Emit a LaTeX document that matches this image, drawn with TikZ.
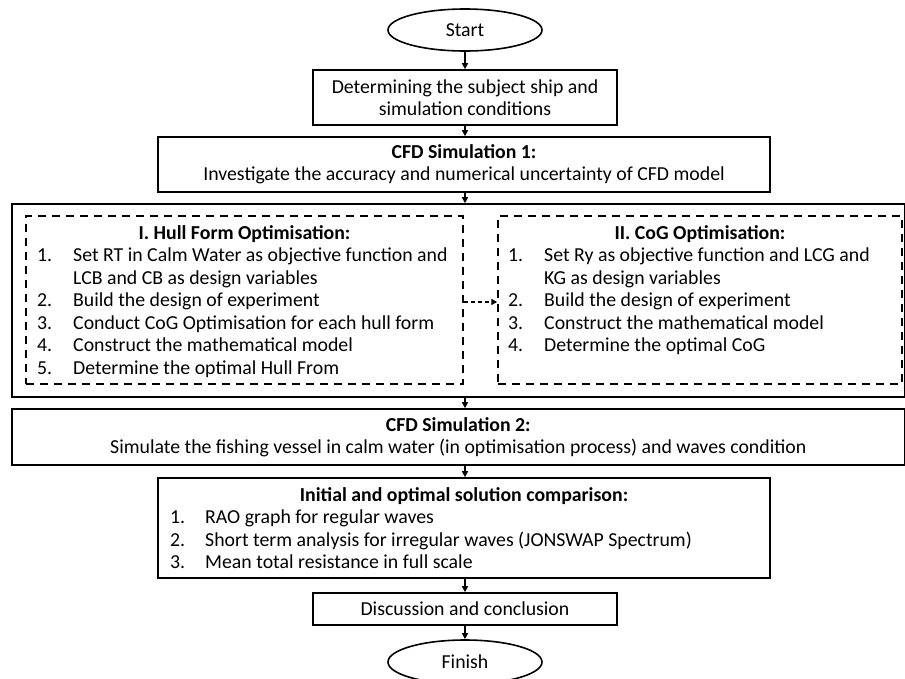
\documentclass[tikz,border=0pt]{standalone}
\usepackage{fontspec}
\setmainfont{Carlito}
\usetikzlibrary{arrows.meta,shapes.geometric}
\newcommand\myfs{\fontsize{19.8}{22}\selectfont}
\tikzset{
  box/.style={draw, line width=1.6pt, rectangle, inner sep=0pt, align=center, font=\myfs},
  dbox/.style={draw, line width=1.5pt, dash pattern=on 8pt off 6pt, rectangle, inner sep=0pt},
  oval/.style={draw, line width=1.6pt, ellipse, inner sep=0pt, minimum width=154pt, font=\myfs},
  arr/.style={-{Triangle[length=6pt,width=6pt]}, line width=1.4pt},
  txt/.style={anchor=base west, inner sep=0pt, font=\myfs},
  head/.style={anchor=base, inner sep=0pt, font=\myfs\bfseries},
}
\begin{document}
\begin{tikzpicture}[x=1pt,y=-1pt]
\useasboundingbox (0,0) rectangle (905,678);
\clip (0,0) rectangle (905,678);
% nodes
\node[oval, minimum height=42pt] (start) at (465,30) {Start};
\node[box, minimum width=304pt, minimum height=55pt] (det) at (465,97.5)
  {Determining the subject ship and\\simulation conditions};
\node[box, minimum width=612pt, minimum height=55pt] (cfd1) at (464,164.5)
  {\textbf{CFD Simulation 1:}\\Investigate the accuracy and numerical uncertainty of CFD model};
\node[box, minimum width=892.5pt, minimum height=193pt] (big) at (458.25,300.5) {};
\node[dbox, minimum width=437pt, minimum height=168pt] (hull) at (244.5,300) {};
\node[dbox, minimum width=404pt, minimum height=168pt] (cog) at (700,300) {};
\node[box, minimum width=892.5pt, minimum height=56pt] (cfd2) at (458.25,437)
  {\textbf{CFD Simulation 2:}\\Simulate the fishing vessel in calm water (in optimisation process) and waves condition};
\node[box, minimum width=612pt, minimum height=100pt] (comp) at (464,528) {};
\node[box, minimum width=304pt, minimum height=32pt] (disc) at (465,609) {Discussion and conclusion};
\node[oval, minimum height=44pt] (finish) at (465,662) {Finish};

% hull form text
\node[head] (h1) at (244.5,239.5) {I. Hull Form Optimisation:};
\node[txt] (h1n1) at (37,261.5) {1.};
\node[txt] (h1t1) at (73,261.5) {Set RT in Calm Water as objective function and};
\node[txt] (h1t1b) at (73,284) {LCB and CB as design variables};
\node[txt] (h1n2) at (37,306.5) {2.};
\node[txt] (h1t2) at (73,306.5) {Build the design of experiment};
\node[txt] (h1n3) at (37,329) {3.};
\node[txt] (h1t3) at (73,329) {Conduct CoG Optimisation for each hull form};
\node[txt] (h1n4) at (37,351.5) {4.};
\node[txt] (h1t4) at (73,351.5) {Construct the mathematical model};
\node[txt] (h1n5) at (37,374) {5.};
\node[txt] (h1t5) at (73,374) {Determine the optimal Hull From};

% cog text
\node[head] (h2) at (700,239.5) {II. CoG Optimisation:};
\node[txt] (h2n1) at (508,261.5) {1.};
\node[txt] (h2t1) at (544,261.5) {Set Ry as objective function and LCG and};
\node[txt] (h2t1b) at (544,284) {KG as design variables};
\node[txt] (h2n2) at (508,306.5) {2.};
\node[txt] (h2t2) at (544,306.5) {Build the design of experiment};
\node[txt] (h2n3) at (508,329) {3.};
\node[txt] (h2t3) at (544,329) {Construct the mathematical model};
\node[txt] (h2n4) at (508,351.5) {4.};
\node[txt] (h2t4) at (544,351.5) {Determine the optimal CoG};

% comparison text
\node[head] (h3) at (464,501.5) {Initial and optimal solution comparison:};
\node[txt] (c1n) at (170,523.5) {1.};
\node[txt] (c1t) at (205,523.5) {RAO graph for regular waves};
\node[txt] (c2n) at (170,546) {2.};
\node[txt] (c2t) at (205,546) {Short term analysis for irregular waves (JONSWAP Spectrum)};
\node[txt] (c3n) at (170,568.5) {3.};
\node[txt] (c3t) at (205,568.5) {Mean total resistance in full scale};

% connectors
\draw[arr] (start.south) -- (det.north);
\draw[arr] (det.south) -- (det.south |- cfd1.north);
\draw[arr] (det.south |- cfd1.south) -- (det.south |- big.north);
\draw[arr] (det.south |- big.south) -- (det.south |- cfd2.north);
\draw[arr] (det.south |- cfd2.south) -- (det.south |- comp.north);
\draw[arr] (det.south |- comp.south) -- (disc.north);
\draw[arr] (disc.south) -- (finish.north);
\draw[arr, dash pattern=on 4pt off 3pt] ([yshift=-2pt]hull.east) -- ([yshift=-2pt]cog.west);
\end{tikzpicture}
\end{document}
